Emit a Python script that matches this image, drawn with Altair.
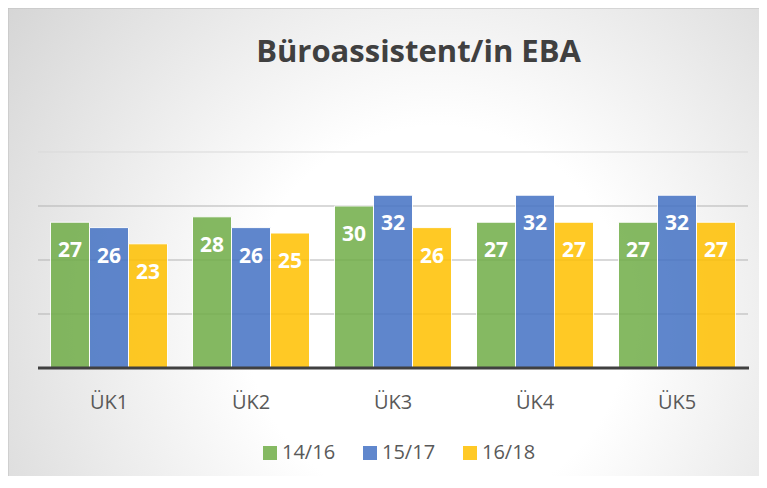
import altair as alt
import pandas as pd

# ---- data ----
categories = ["ÜK1", "ÜK2", "ÜK3", "ÜK4", "ÜK5"]
series = ["14/16", "15/17", "16/18"]
v_1416 = [27, 28, 30, 27, 27]
v_1517 = [26, 26, 32, 32, 32]
v_1618 = [23, 25, 26, 27, 27]
colors = ["#70AD47", "#4472C4", "#FFC000"]
grid_inner = [10, 20, 30]
grid_top = [40]
baseline_value = [0]
title_text = ["Büroassistent/in EBA"]

rows = []
for s, vals in zip(series, [v_1416, v_1517, v_1618]):
    for c, v in zip(categories, vals):
        rows.append({"cat": c, "series": s, "value": v})
df = pd.DataFrame(rows)

W, H = 710, 216
PL, PT, PR, PB = 30, 144, 11, 108

FONT = "Open Sans"

x_enc = alt.X(
    "cat:N", sort=categories,
    scale=alt.Scale(paddingInner=0.176, paddingOuter=0.088),
    axis=alt.Axis(title=None, domain=False, ticks=False, tickSize=0, grid=False,
                  labelAngle=0, labelFont=FONT, labelFontSize=20,
                  labelColor="#595959", labelPadding=40,
                  labelBaseline="alphabetic", zindex=2),
)
y_scale = alt.Scale(domain=[0, 40], nice=False, zero=True)
xo_enc = alt.XOffset("series:N", sort=series)

gradient = {
    "gradient": "radial",
    "stops": [
        {"offset": 0.0, "color": "#ffffff"},
        {"offset": 0.3, "color": "#ffffff"},
        {"offset": 1.0, "color": "#c8c8c8"},
    ],
    "x1": 0.57, "y1": 0.6, "r1": 0,
    "x2": 0.57, "y2": 0.6, "r2": 0.85,
}

bg = alt.Chart(pd.DataFrame({"a": [0]})).mark_rect(
    fill=gradient, stroke="#c0c0c0", strokeWidth=1
).encode(
    x=alt.value(-PL), x2=alt.value(W + PR + 2),
    y=alt.value(-PT), y2=alt.value(H + PB + 2),
)

grid1 = alt.Chart(pd.DataFrame({"g": grid_inner})).mark_rule(
    color="#b3b3b3", strokeWidth=1
).encode(
    y=alt.Y("g:Q", scale=y_scale, axis=None),
    x=alt.value(0), x2=alt.value(W),
)

grid2 = alt.Chart(pd.DataFrame({"g": grid_top})).mark_rule(
    color="#d9d9d9", strokeWidth=1
).encode(
    y=alt.Y("g:Q", scale=y_scale, axis=None),
    x=alt.value(0), x2=alt.value(W),
)

bars = alt.Chart(df).mark_bar(
    opacity=0.85, stroke="white", strokeWidth=1
).encode(
    x=x_enc,
    xOffset=xo_enc,
    y=alt.Y("value:Q", scale=y_scale, axis=None),
    color=alt.Color(
        "series:N",
        scale=alt.Scale(domain=series, range=colors),
        legend=alt.Legend(
            title=None, orient="none", direction="horizontal",
            legendX=222, legendY=291,
            symbolType="square", symbolSize=196, symbolOpacity=0.85,
            symbolStrokeWidth=0,
            labelFont=FONT, labelFontSize=20, labelColor="#595959",
            labelOffset=2, columnPadding=24, zindex=2,
        ),
    ),
)

labels = alt.Chart(df).mark_text(
    font=FONT, fontWeight="bold", fontSize=21, color="white",
    baseline="middle", dy=29
).encode(
    x=x_enc,
    xOffset=xo_enc,
    y=alt.Y("value:Q", scale=y_scale, axis=None),
    text="value:Q",
)

base = alt.Chart(pd.DataFrame({"b": baseline_value})).mark_rule(
    color="#404040", strokeWidth=3
).encode(
    y=alt.Y("b:Q", scale=y_scale, axis=None),
    x=alt.value(0), x2=alt.value(W + 1),
)

title = alt.Chart(pd.DataFrame({"t": title_text})).mark_text(
    font=FONT, fontWeight="bold", fontSize=31, color="#404040",
    align="center", baseline="alphabetic"
).encode(
    x=alt.value(380.5), y=alt.value(-90), text="t:N",
)

chart = alt.layer(bg, grid1, grid2, bars, labels, base, title).properties(
    width=W, height=H,
    padding={"left": PL, "top": PT, "right": PR, "bottom": PB},
    autosize=alt.AutoSizeParams(type="none"),
).configure_view(stroke=None)

chart.save("out.html", embed_options={"renderer": "svg", "actions": False})
